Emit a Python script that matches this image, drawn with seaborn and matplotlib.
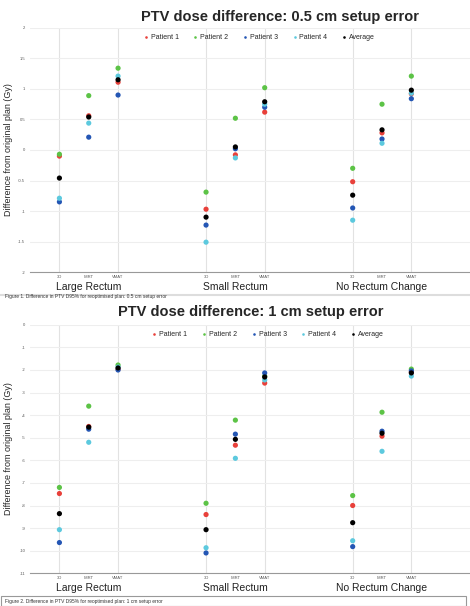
import numpy as np
import pandas as pd
import seaborn as sns
import matplotlib.pyplot as plt

# groups and plan types on the x axis
groups = ["Large Rectum", "Small Rectum", "No Rectum Change"]
plans = ["3D", "IMRT", "VMAT"]
series = ["Patient 1", "Patient 2", "Patient 3", "Patient 4", "Average"]
colors = ["#e8403a", "#5cc346", "#2456b4", "#5cc9de", "#000000"]

# 0.5 cm setup error (Gy), order: group x plan
p1_05 = [-0.10, 0.56, 1.11, -0.97, -0.08, 0.62, -0.52, 0.28, 0.92]
p2_05 = [-0.07, 0.89, 1.34, -0.69, 0.52, 1.02, -0.30, 0.75, 1.21]
p3_05 = [-0.85, 0.21, 0.90, -1.23, 0.02, 0.70, -0.95, 0.18, 0.84]
p4_05 = [-0.79, 0.44, 1.21, -1.51, -0.13, 0.75, -1.15, 0.11, 0.93]
avg_05 = [-0.46, 0.54, 1.15, -1.10, 0.05, 0.79, -0.74, 0.33, 0.98]

# 1 cm setup error (Gy)
p1_1 = [-7.47, -4.50, -1.96, -8.40, -5.33, -2.58, -8.00, -4.93, -2.09]
p2_1 = [-7.20, -3.60, -1.78, -7.90, -4.22, -2.27, -7.56, -3.87, -1.96]
p3_1 = [-9.64, -4.62, -2.00, -10.10, -4.84, -2.13, -9.82, -4.71, -2.04]
p4_1 = [-9.07, -5.20, -1.87, -9.87, -5.91, -2.44, -9.56, -5.60, -2.27]
avg_1 = [-8.36, -4.53, -1.91, -9.07, -5.07, -2.31, -8.76, -4.80, -2.13]

yticks_05 = [-2, -1.5, -1, -0.5, 0, 0.5, 1, 1.5, 2]
yticks_1 = [0, -1, -2, -3, -4, -5, -6, -7, -8, -9, -10, -11]


def long_table(values):
    rows = []
    for name, vals in zip(series, values):
        for k, v in enumerate(vals):
            g, p = divmod(k, 3)
            rows.append({"x": g * 5 + p, "value": v, "series": name})
    return pd.DataFrame(rows)


sns.set_style("white")
plt.rcParams['font.family'] = ['Liberation Sans', 'DejaVu Sans']

fig = plt.figure(figsize=(4.7, 6.06), dpi=100)


def panel(rect, values, yticks, ylim, title, title_x, title_y, caption, caption_y, leg_anchor):
    ax = fig.add_axes(rect)
    df = long_table(values)
    sns.scatterplot(data=df, x="x", y="value", hue="series", hue_order=series,
                    palette=colors, s=14, marker="o", edgecolor="none", ax=ax, zorder=3)
    ax.set_xlim(-1, 14)
    ax.set_ylim(*ylim)
    xt = [g * 5 + p for g in range(3) for p in range(3)]
    ax.set_xticks(xt)
    ax.set_xticklabels(plans * 3, fontsize=3, color="#555555")
    ax.set_yticks(yticks)
    ax.set_yticklabels([str(t) for t in yticks], fontsize=3, color="#555555")
    ax.tick_params(axis="y", length=3, width=0.5, color="#888888", pad=0.5)
    ax.tick_params(axis="x", length=1.5, width=0.5, color="#888888", pad=0.5)
    for g in range(3):
        for p in (0, 2):
            ax.axvline(g * 5 + p, color="#e2e2e2", lw=0.8, zorder=0)
    for t in yticks:
        ax.axhline(t, color="#eeeeee", lw=0.8, zorder=0)
    for s in ["top", "right", "left"]:
        ax.spines[s].set_visible(False)
    ax.spines["bottom"].set_color("#999999")
    ax.spines["bottom"].set_linewidth(0.8)
    ax.set_xlabel("")
    ax.set_ylabel("Difference from original plan (Gy)", fontsize=6.5)
    ax.yaxis.set_label_coords(-0.038, 0.5)
    for g, name in enumerate(groups):
        ax.text(g * 5 + 1, -0.06, name, transform=ax.get_xaxis_transform(),
                ha="center", va="center", fontsize=7.5, color="#222222")
    ax.legend(loc="center", bbox_to_anchor=leg_anchor, ncol=5, frameon=False,
              fontsize=5, handletextpad=0.3, columnspacing=2.0, markerscale=0.5,
              handlelength=0.8)
    fig.text(title_x, title_y, title, ha="center", va="center", fontsize=10.5, fontweight="bold")
    fig.text(0.01, caption_y, caption, ha="left", va="center", fontsize=3.5, color="#333333")
    return ax


panel([0.064, 0.551, 0.936, 0.403], [p1_05, p2_05, p3_05, p4_05, avg_05], yticks_05, (-2, 2),
      "PTV dose difference: 0.5 cm setup error", 0.596, 0.972,
      "Figure 1. Difference in PTV D95% for reoptimised plan: 0.5 cm setup error", 0.510,
      (0.52, 0.96))
fig.add_artist(plt.Line2D([0, 1], [0.514, 0.514], color="#dddddd", lw=1.5))
panel([0.064, 0.054, 0.936, 0.41], [p1_1, p2_1, p3_1, p4_1, avg_1], yticks_1, (-11, 0),
      "PTV dose difference: 1 cm setup error", 0.534, 0.485,
      "Figure 2. Difference in PTV D95% for reoptimised plan: 1 cm setup error", 0.007,
      (0.54, 0.96))
fig.add_artist(plt.Rectangle((0.002, 0.0), 0.99, 0.016, fill=False, ec="#999999", lw=0.8))

fig.savefig("out.png", dpi=100)
